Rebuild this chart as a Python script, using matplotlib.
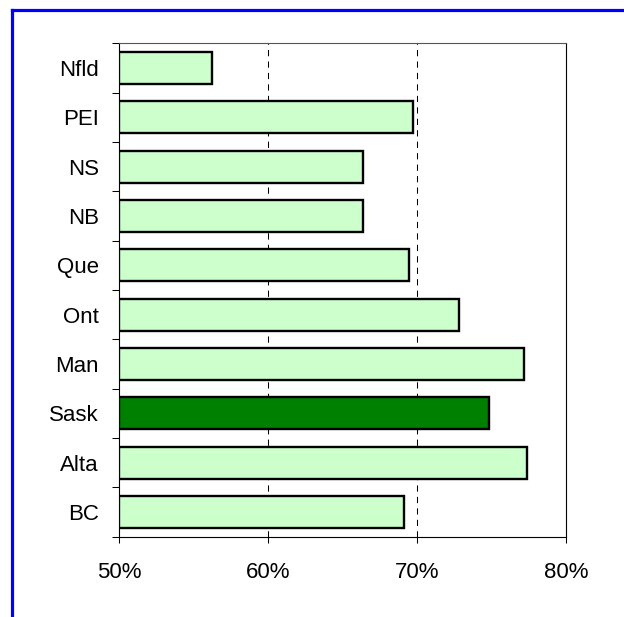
import numpy as np
import matplotlib.pyplot as plt
from matplotlib.lines import Line2D

plt.rcParams['font.family'] = ['Liberation Sans', 'DejaVu Sans']

provinces = ['Nfld', 'PEI', 'NS', 'NB', 'Que', 'Ont', 'Man', 'Sask', 'Alta', 'BC']
values = [56.2, 69.75, 66.4, 66.4, 69.45, 72.8, 77.15, 74.85, 77.4, 69.1]
highlight = 'Sask'
xticks = [50, 60, 70, 80]

fig = plt.figure(figsize=(6.24, 6.17), dpi=100)
ax = fig.add_axes([0.191, 0.1302, 0.716, 0.7996])

pos = np.arange(len(provinces))
colors = ['#008000' if p == highlight else '#CCFFCC' for p in provinces]
ax.barh(pos, [v - 50 for v in values], left=50, height=0.65, color=colors,
        edgecolor='black', linewidth=1.7, zorder=3)

ax.set_xlim(50, 80)
ax.set_ylim(len(provinces) - 0.5, -0.5)

# dashed gridlines at the inner ticks
for x in xticks[1:-1]:
    ax.axvline(x, color='black', linestyle=(0, (6, 5)), linewidth=0.75, zorder=1)

ax.set_xticks(xticks)
ax.set_xticklabels([f'{x}%' for x in xticks], fontsize=16)
ax.tick_params(axis='x', direction='out', length=4.6, width=0.75, pad=13.5)

ax.set_yticks(pos)
ax.set_yticklabels(provinces, fontsize=16)
ax.set_yticks(np.arange(len(provinces) + 1) - 0.5, minor=True)
ax.tick_params(axis='y', which='major', length=0, pad=14.5)
ax.tick_params(axis='y', which='minor', direction='out', length=5, width=0.75)

for side in ['left', 'bottom', 'right']:
    ax.spines[side].set_linewidth(0.8)
ax.spines['top'].set_linewidth(0.8)
ax.spines['top'].set_color('#555555')

# blue frame along the top and left edges
fig.add_artist(Line2D([12.3 / 624, 1], [1 - 9.5 / 617, 1 - 9.5 / 617],
                      color='#0000FF', linewidth=2.3))
fig.add_artist(Line2D([12.3 / 624, 12.3 / 624], [0, 1 - 9.5 / 617],
                      color='#0000FF', linewidth=2.3))

fig.savefig('out.png', dpi=100)
